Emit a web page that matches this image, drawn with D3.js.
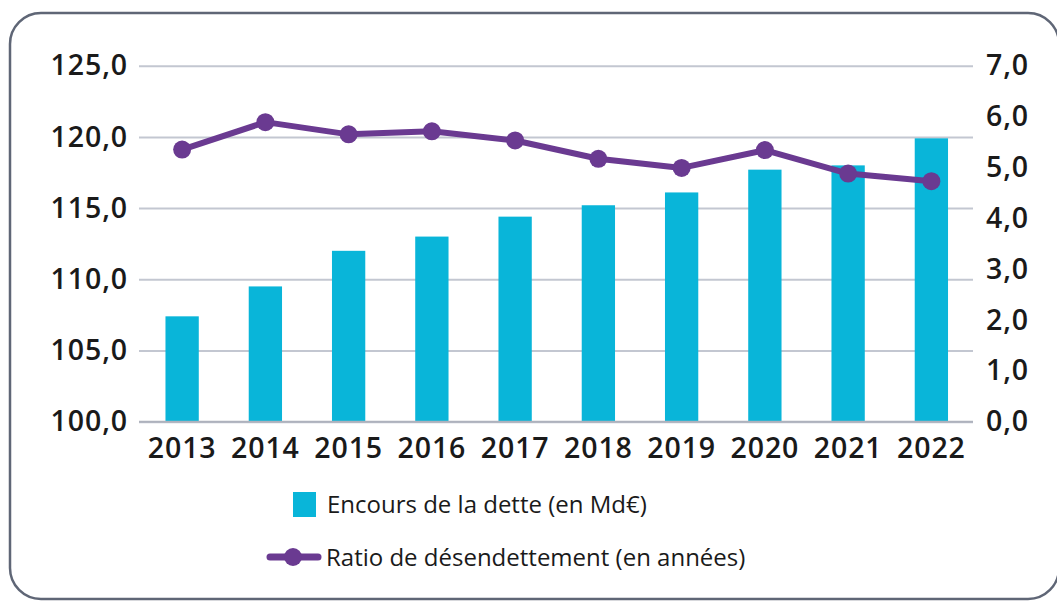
<!DOCTYPE html>
<html><head><meta charset="utf-8">
<script src="https://cdn.jsdelivr.net/npm/d3@7"></script>
<style>
html,body{margin:0;padding:0;background:#fff;}
svg{display:block;font-family:"Open Sans",sans-serif;}
</style></head>
<body><svg id="c" width="1057" height="601"></svg>
<script>
const years = ["2013","2014","2015","2016","2017","2018","2019","2020","2021","2022"];
const debt = [107.4,109.5,112.0,113.0,114.4,115.2,116.1,117.7,118.0,119.9];
const ratio = [5.35,5.89,5.65,5.71,5.53,5.17,4.99,5.34,4.88,4.73];
const leftTicks = [100,105,110,115,120,125];
const rightTicks = [0,1,2,3,4,5,6,7];
const legendLabels = ["Encours de la dette (en Md€)","Ratio de désendettement (en années)"];

const barColor = "#09b5d9", lineColor = "#6a3a91", gridColor = "#c3c7d1";
const svg = d3.select("#c");
const fmt = v => d3.format(".1f")(v).replace(".", ",");
const styleTicks = sel => sel.attr("fill","#1a1a1a").attr("font-size",28.5).attr("font-weight",600)
  .attr("letter-spacing","0.9px").attr("font-family","'Open Sans',sans-serif");

// frame
svg.append("rect").attr("x",10).attr("y",13).attr("width",1049).attr("height",586)
  .attr("rx",31).attr("fill","none").attr("stroke","#5f6676").attr("stroke-width",2.5);

const x = d3.scaleBand().domain(years).range([140.5,973]).paddingInner(0.6).paddingOuter(0.3);
const yL = d3.scaleLinear().domain([100,125]).range([421.7,65.7]);
const yR = d3.scaleLinear().domain([0,7]).range([421.7,65.7]);

// left axis with gridlines
const gl = svg.append("g").attr("transform","translate(139,0)")
  .call(d3.axisLeft(yL).tickValues(leftTicks).tickFormat(fmt).tickSize(-834).tickPadding(11));
gl.select(".domain").remove();
gl.selectAll(".tick line").attr("stroke",gridColor).attr("stroke-width",2);
styleTicks(gl.selectAll(".tick text"));

// right axis
const gr = svg.append("g").attr("transform","translate(973,0)")
  .call(d3.axisRight(yR).tickValues(rightTicks).tickFormat(fmt).tickSize(0).tickPadding(13));
gr.select(".domain").remove();
styleTicks(gr.selectAll(".tick text"));

// bars
svg.append("g").selectAll("rect").data(years).join("rect")
  .attr("x",d=>x(d)).attr("width",x.bandwidth())
  .attr("y",(d,i)=>yL(debt[i])).attr("height",(d,i)=>yL(100)-yL(debt[i]))
  .attr("fill",barColor);

// bottom axis
const gb = svg.append("g").attr("transform","translate(0,421.7)")
  .call(d3.axisBottom(x).tickSize(0).tickPadding(16));
gb.select(".domain").attr("d","M139,0H973").attr("stroke","#aeb2bd").attr("stroke-width",2);
styleTicks(gb.selectAll(".tick text"));

// line
const cx = d => x(d)+x.bandwidth()/2;
const line = d3.line().x((d,i)=>cx(years[i])).y(d=>yR(d));
svg.append("path").datum(ratio).attr("d",line).attr("fill","none")
  .attr("stroke",lineColor).attr("stroke-width",6).attr("stroke-linejoin","round");
svg.append("g").selectAll("circle").data(ratio).join("circle")
  .attr("cx",(d,i)=>cx(years[i])).attr("cy",d=>yR(d)).attr("r",9).attr("fill",lineColor);

// legend
const lg = svg.append("g");
lg.append("rect").attr("x",293).attr("y",492).attr("width",23).attr("height",25).attr("fill",barColor);
lg.append("text").attr("x",327).attr("y",513).text(legendLabels[0])
  .attr("font-size",24).attr("fill","#1a1a1a");
lg.append("line").attr("x1",270).attr("x2",318).attr("y1",557).attr("y2",557)
  .attr("stroke",lineColor).attr("stroke-width",7).attr("stroke-linecap","round");
lg.append("circle").attr("cx",293).attr("cy",557).attr("r",9).attr("fill",lineColor);
lg.append("text").attr("x",326).attr("y",566).text(legendLabels[1])
  .attr("font-size",24).attr("fill","#1a1a1a");
</script></body></html>
